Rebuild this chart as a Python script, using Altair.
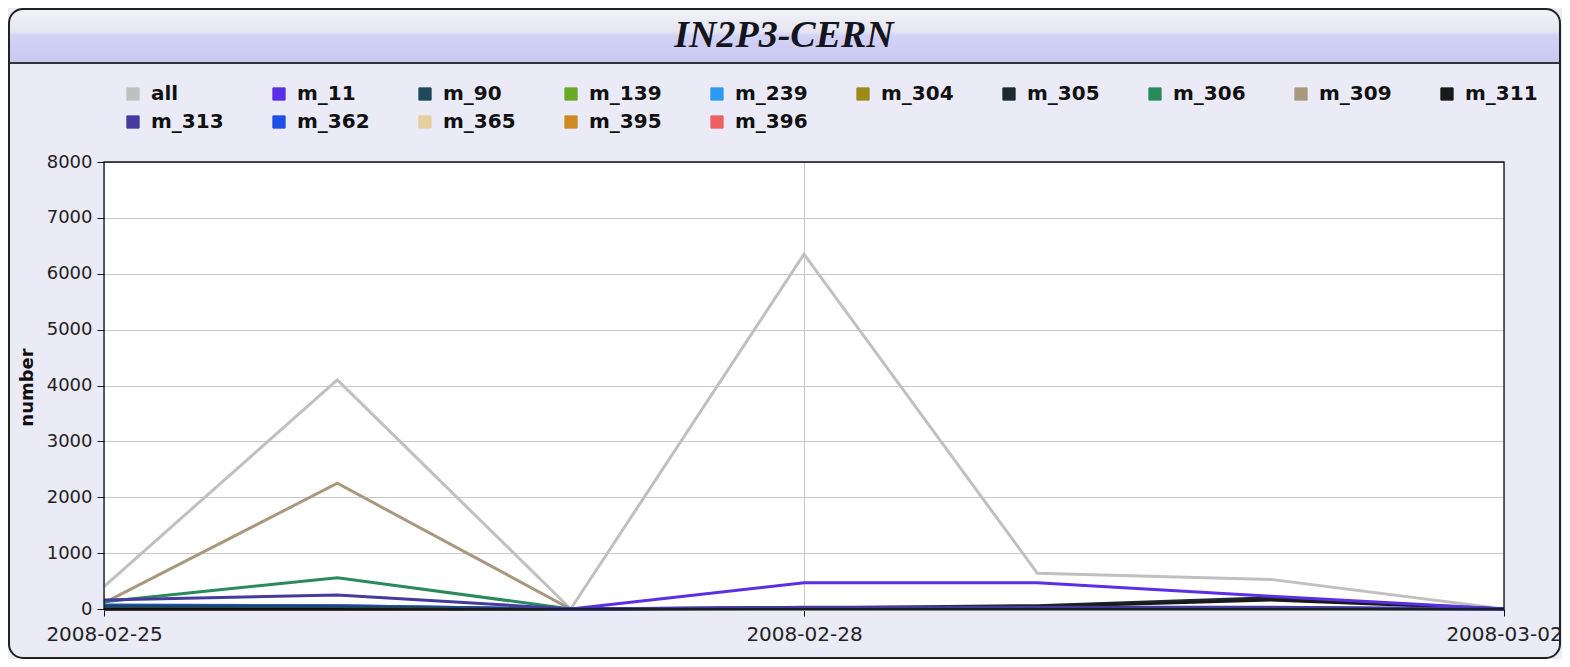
import altair as alt
import pandas as pd

dates = ["2008-02-25", "2008-02-26", "2008-02-27", "2008-02-28",
         "2008-02-29", "2008-03-01", "2008-03-02"]

series_names = ["all", "m_11", "m_90", "m_139", "m_239", "m_304", "m_305",
                "m_306", "m_309", "m_311", "m_313", "m_362", "m_365",
                "m_395", "m_396"]

series_colors = ["#C0C0C0", "#5A2FE6", "#1E4A5C", "#6AA828", "#2A9BF0",
                 "#9C8A18", "#1C2A2E", "#2A8A5C", "#A8997E", "#1A1A1A",
                 "#453A9E", "#1F4FE8", "#E6CFA0", "#D08A22", "#EE6060"]

# order in which the lines are stacked (first drawn at the bottom)
draw_order = ["m_139", "m_239", "m_304", "m_365", "m_395", "m_396",
              "all", "m_309", "m_306", "m_305", "m_311", "m_11", "m_362",
              "m_90", "m_313"]

v_all = [400, 4100, 0, 6350, 640, 530, 0]
v_m11 = [60, 60, 0, 470, 470, 230, 0]
v_m90 = [50, 40, 0, 15, 15, 15, 0]
v_m139 = [0, 5, 0, 0, 0, 0, 0]
v_m239 = [0, 0, 0, 0, 0, 0, 0]
v_m304 = [0, 0, 0, 0, 0, 0, 0]
v_m305 = [0, 0, 0, 20, 60, 200, 0]
v_m306 = [130, 560, 0, 0, 0, 0, 0]
v_m309 = [110, 2250, 0, 0, 0, 0, 0]
v_m311 = [0, 0, 0, 10, 40, 160, 0]
v_m313 = [160, 250, 0, 30, 30, 30, 0]
v_m362 = [70, 60, 0, 25, 25, 25, 0]
v_m365 = [0, 0, 0, 0, 0, 0, 0]
v_m395 = [0, 0, 0, 0, 0, 0, 0]
v_m396 = [0, 0, 0, 0, 0, 0, 0]

all_values = [v_all, v_m11, v_m90, v_m139, v_m239, v_m304, v_m305, v_m306,
              v_m309, v_m311, v_m313, v_m362, v_m365, v_m395, v_m396]

x_tick_dates = [(2008, 2, 25), (2008, 2, 28), (2008, 3, 2)]
y_ticks = [0, 1000, 2000, 3000, 4000, 5000, 6000, 7000, 8000]
title_text = "IN2P3-CERN"

value_map = dict(zip(series_names, all_values))
rows = []
for k, name in enumerate(draw_order):
    for d, v in zip(dates, value_map[name]):
        rows.append({"date": d, "series": name, "value": v, "k": k})
df = pd.DataFrame(rows)

W, H = 1400, 447
PAD = {"left": 96, "top": 154, "right": 58, "bottom": 50}

one = alt.Data(values=[{"t": title_text}])

band = alt.Chart(one).mark_rect(
    fill=alt.Gradient(
        gradient="linear",
        stops=[alt.GradientStop(color="#F2F2F8", offset=0),
               alt.GradientStop(color="#E6E6F2", offset=0.42),
               alt.GradientStop(color="#D3D3F6", offset=0.5),
               alt.GradientStop(color="#C8C8F0", offset=1)],
        x1=0, x2=0, y1=0, y2=1),
    cornerRadiusTopLeft=13, cornerRadiusTopRight=13,
).encode(x=alt.value(-95), x2=alt.value(1456), y=alt.value(-153), y2=alt.value(-100))

sep = alt.Chart(one).mark_rule(color="#333333", strokeWidth=2).encode(
    x=alt.value(-95), x2=alt.value(1456), y=alt.value(-99))

frame = alt.Chart(one).mark_rect(
    fill="transparent", stroke="#222222", strokeWidth=2, cornerRadius=14
).encode(x=alt.value(-95), x2=alt.value(1456), y=alt.value(-153), y2=alt.value(496))

plot_border = alt.Chart(one).mark_rect(
    fill="transparent", stroke="#111111", strokeWidth=1.3
).encode(x=alt.value(0), x2=alt.value(W), y=alt.value(0), y2=alt.value(H))

title = alt.Chart(one).mark_text(
    font="Liberation Serif", fontSize=38, fontStyle="italic", fontWeight="bold",
    color="#15151F", align="center", baseline="alphabetic"
).encode(text="t:N", x=alt.value(680), y=alt.value(-115))

x_enc = alt.X("date:T",
              scale=alt.Scale(type="utc",
                              domain=[alt.DateTime(year=2008, month=2, date=25, utc=True),
                                      alt.DateTime(year=2008, month=3, date=2, utc=True)]),
              axis=alt.Axis(values=[alt.DateTime(year=y, month=m, date=d, utc=True)
                                    for (y, m, d) in x_tick_dates],
                            format="%Y-%m-%d", title=None, labelFontSize=20,
                            labelPadding=8, labelFlush=False, labelBound=False,
                            labelOverlap=False, tickSize=7))
y_enc = alt.Y("value:Q", scale=alt.Scale(domain=[0, 8000], nice=False),
              axis=alt.Axis(values=y_ticks, format="d", title="number",
                            tickSize=7, labelPadding=5, labelFontSize=18,
                            titleFontSize=18, titleFont="DejaVu Sans",
                            titleFontWeight="bold", titleX=-72, titleY=225,
                            titleBaseline="alphabetic", titleAngle=270))
color_scale = alt.Scale(domain=series_names, range=series_colors)

keys = alt.Chart(df).mark_square(size=0, filled=True, opacity=0).encode(
    x=x_enc, y=y_enc,
    color=alt.Color("series:N", scale=color_scale, sort=series_names,
                    legend=alt.Legend(
                        title=None, orient="none", legendX=19, legendY=-78,
                        direction="horizontal",
                        columns=10, gridAlign="none", columnPadding=45,
                        rowPadding=8, padding=0, symbolType="square",
                        symbolSize=150, symbolStrokeWidth=1,
                        symbolStrokeColor="#333333", symbolOpacity=1,
                        labelOffset=8, labelFont="DejaVu Sans",
                        labelFontWeight="bold", labelFontSize=20,
                        labelColor="#111111", labelLimit=300)),
)

lines = alt.Chart(df).mark_line(strokeWidth=3, interpolate="linear").encode(
    x=x_enc, y=y_enc,
    color=alt.Color("series:N", scale=color_scale, sort=series_names),
    order=alt.Order("date:T"),
    detail="k:N",
)

chart = alt.layer(band, sep, frame, title, keys, lines, plot_border).properties(
    width=W, height=H,
    autosize=alt.AutoSizeParams(type="none"),
    padding=PAD,
    background="#EBEBF8",
).configure_view(
    fill="white", stroke=None
).configure_axis(
    domain=False, grid=True, gridColor="#C8C8C8", gridWidth=1,
    tickColor="#111111", labelColor="#222222", labelFont="DejaVu Sans",
    titleColor="#111111"
)

chart.save("out.html", embed_options={"renderer": "svg", "actions": False})
